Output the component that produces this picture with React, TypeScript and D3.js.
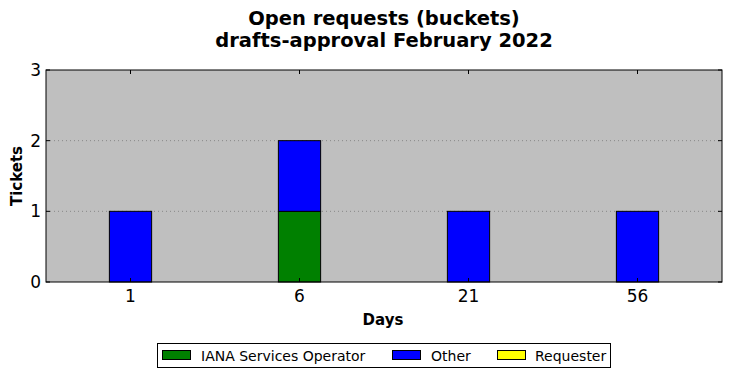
import React from "react";
import * as d3 from "d3";

const categories = ["1", "6", "21", "56"];
const seriesNames = ["IANA Services Operator", "Other", "Requester"];
const ianaValues = [0, 1, 0, 0];
const otherValues = [1, 1, 1, 1];
const requesterValues = [0, 0, 0, 0];
const yTicks = [0, 1, 2, 3];
const colors = ["#008000", "#0000ff", "#ffff00"];

export default function App() {
  const W = 731, H = 378;
  const m = { l: 46, r: 9, t: 70, b: 96 };
  const x = d3.scaleBand<string>().domain(categories).range([m.l, W - m.r]).paddingInner(0.75).paddingOuter(0.375);
  const y = d3.scaleLinear().domain([0, 3]).range([H - m.b, m.t]);
  const series = [ianaValues, otherValues, requesterValues];
  const stacked = d3.stack<number>().keys(["0", "1", "2"]).value((d, k) => series[+k][d])(categories.map((_, i) => i));
  const font = "DejaVu Sans, sans-serif";
  const legendItems = [
    { x: 162, tx: 201 },
    { x: 392, tx: 431 },
    { x: 497, tx: 535 },
  ];
  return (
    <svg width={W} height={H} style={{ position: "absolute", left: 0, top: 0 }} fontFamily={font}>
      <rect x={0} y={0} width={W} height={H} fill="#fff" />
      <text x={384} y={25} textAnchor="middle" fontWeight="bold" fontSize={19.5}>Open requests (buckets)</text>
      <text x={384} y={47} textAnchor="middle" fontWeight="bold" fontSize={19.5}>drafts-approval February 2022</text>
      <rect x={m.l} y={m.t} width={W - m.l - m.r} height={H - m.t - m.b} fill="#bfbfbf" />
      {yTicks.filter((t) => t > 0 && t < 3).map((t) => (
        <line key={t} x1={m.l} x2={W - m.r} y1={y(t)} y2={y(t)} stroke="#888" strokeDasharray="1,3" strokeWidth={1} />
      ))}
      {stacked.map((s, si) =>
        s.map((d, i) =>
          d[1] - d[0] > 0 ? (
            <rect key={si + "-" + i} x={x(categories[i])!} y={y(d[1])} width={x.bandwidth()} height={y(d[0]) - y(d[1])} fill={colors[si]} stroke="#000" strokeWidth={1} />
          ) : null
        )
      )}
      <rect x={m.l} y={m.t} width={W - m.l - m.r} height={H - m.t - m.b} fill="none" stroke="#000" strokeWidth={1} />
      {categories.map((c) => {
        const cx = x(c)! + x.bandwidth() / 2;
        return (
          <g key={c}>
            <line x1={cx} x2={cx} y1={m.t} y2={m.t + 4} stroke="#000" />
            <line x1={cx} x2={cx} y1={H - m.b} y2={H - m.b - 4} stroke="#000" />
            <text x={cx} y={H - m.b + 20} textAnchor="middle" fontSize={17}>{c}</text>
          </g>
        );
      })}
      {yTicks.map((t) => (
        <g key={t}>
          <line x1={m.l} x2={m.l + 4} y1={y(t)} y2={y(t)} stroke="#000" />
          <line x1={W - m.r} x2={W - m.r - 4} y1={y(t)} y2={y(t)} stroke="#000" />
          <text x={m.l - 5} y={y(t) + 6} textAnchor="end" fontSize={17}>{t}</text>
        </g>
      ))}
      <text x={383} y={325} textAnchor="middle" fontWeight="bold" fontSize={15}>Days</text>
      <text transform={`translate(22,${(m.t + H - m.b) / 2}) rotate(-90)`} textAnchor="middle" fontWeight="bold" fontSize={15}>Tickets</text>
      <rect x={157.5} y={343.5} width={453} height={24} fill="#fff" stroke="#000" />
      {seriesNames.map((n, i) => (
        <g key={n}>
          <rect x={legendItems[i].x + 0.5} y={350.5} width={28} height={9} fill={colors[i]} stroke="#000" />
          <text x={legendItems[i].tx} y={360.5} fontSize={14}>{n}</text>
        </g>
      ))}
    </svg>
  );
}
